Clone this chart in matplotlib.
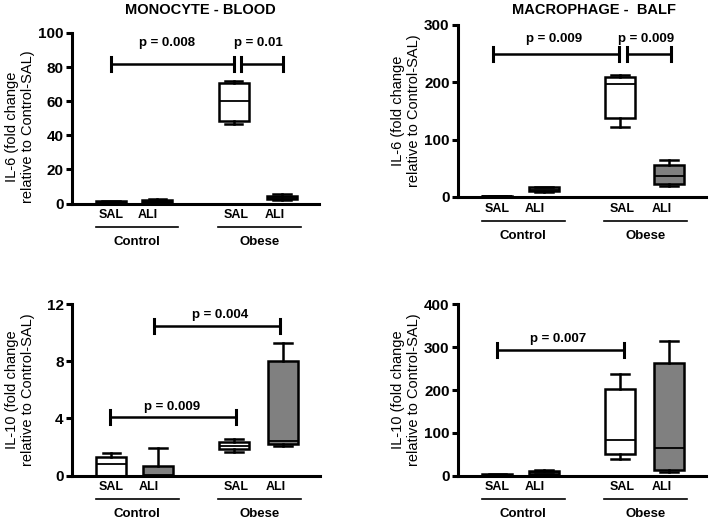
import matplotlib
matplotlib.use("Agg")
import matplotlib.pyplot as plt

# box stats per group: [whisker low, q1, median, q3, whisker high]
GROUPS = ["SAL", "ALI", "SAL", "ALI"]
POSITIONS = [1.0, 2.0, 3.65, 4.7]
LABEL_X = [1.0, 1.8, 3.7, 4.55]
FILLS = ["white", "#808080", "white", "#808080"]

MONO_IL6 = [[0.3, 0.5, 0.9, 1.3, 1.6], [0.8, 1.0, 1.6, 2.0, 2.4],
            [46.7, 48.4, 60.1, 70.5, 71.8], [2.0, 2.5, 3.5, 4.4, 5.4]]
MACRO_IL6 = [[0.5, 0.8, 1.0, 1.3, 1.6], [9.0, 10.0, 13.0, 17.0, 18.0],
             [121.5, 137.0, 196.5, 208.7, 212.8], [19.7, 22.0, 37.0, 55.8, 64.5]]
MONO_IL10 = [[0.0, 0.0, 0.8, 1.33, 1.61], [0.0, 0.0, 0.05, 0.68, 1.96],
             [1.63, 1.84, 2.1, 2.38, 2.56], [2.1, 2.19, 2.43, 8.02, 9.3]]
MACRO_IL10 = [[1.0, 1.5, 2.5, 3.5, 4.0], [3.0, 5.0, 8.0, 10.0, 13.0],
              [38.3, 50.0, 82.6, 201.6, 237.0], [8.7, 12.6, 64.0, 263.7, 314.0]]

# significance bars: (x start, x end, bar y, text x, text y, text)
MONO_IL6_SIG = [(1.0, 3.65, 82, 2.21, 94, "p = 0.008"), (3.8, 4.72, 82, 4.19, 94, "p = 0.01")]
MACRO_IL6_SIG = [(0.9, 3.63, 249, 2.22, 275, "p = 0.009"), (3.8, 4.75, 249, 4.2, 275, "p = 0.009")]
MONO_IL10_SIG = [(1.92, 4.63, 10.46, 3.34, 11.2, "p = 0.004"), (0.98, 3.68, 4.12, 2.3, 4.8, "p = 0.009")]
MACRO_IL10_SIG = [(1.0, 3.73, 293, 2.32, 319, "p = 0.007")]

plt.rcParams["font.family"] = ["Liberation Sans", "DejaVu Sans"]

W, H = 709, 528


def make_axes(fig, left, right, top, bottom):
    return fig.add_axes([left / W, 1 - bottom / H, (right - left) / W, (bottom - top) / H])


def panel(ax, stats, sigs, ymax, yticks, ylabel, label_y=0.5):
    bxp_stats = [dict(whislo=s[0], q1=s[1], med=s[2], q3=s[3], whishi=s[4]) for s in stats]
    bp = ax.bxp(bxp_stats, positions=POSITIONS, widths=0.65, capwidths=0.38,
                showfliers=False, patch_artist=True,
                boxprops=dict(linewidth=1.8, edgecolor="black"),
                whiskerprops=dict(linewidth=1.8),
                capprops=dict(linewidth=1.8),
                medianprops=dict(color="black", linewidth=1.3))
    for patch, c in zip(bp["boxes"], FILLS):
        patch.set_facecolor(c)

    ax.set_xlim(0.15, 5.5)
    ax.set_ylim(0, ymax)
    ax.set_yticks(yticks)
    ax.set_xticks([])
    for s in ["top", "right"]:
        ax.spines[s].set_visible(False)
    for s in ["left", "bottom"]:
        ax.spines[s].set_linewidth(2.2)
    ax.tick_params(axis="y", length=4, width=2.2, labelsize=11, pad=2)
    for t in ax.get_yticklabels():
        t.set_fontweight("bold")
    ax.set_ylabel(ylabel, fontsize=10.5, linespacing=1.15)
    ax.yaxis.set_label_coords(-0.15, label_y)

    tick = ymax * 0.04
    for x1, x2, y, tx, ty, txt in sigs:
        ax.plot([x1, x2], [y, y], color="black", lw=1.8, clip_on=False)
        ax.plot([x1, x1], [y - tick, y + tick], color="black", lw=2.2, clip_on=False)
        ax.plot([x2, x2], [y - tick, y + tick], color="black", lw=2.2, clip_on=False)
        ax.text(tx, ty, txt, ha="center", va="center", fontsize=9.5, fontweight="bold")

    tr = ax.get_xaxis_transform()
    for x, g in zip(LABEL_X, GROUPS):
        ax.text(x, -0.068, g, transform=tr, ha="center", va="center",
                fontsize=9, fontweight="bold")
    for (a, b), name in [((0.67, 2.45), "Control"), ((3.31, 5.1), "Obese")]:
        ax.plot([a, b], [-0.138, -0.138], transform=tr, color="black", lw=1.2, clip_on=False)
        ax.text((a + b) / 2, -0.225, name, transform=tr, ha="center", va="center",
                fontsize=9.5, fontweight="bold")


fig = plt.figure(figsize=(W / 100, H / 100), dpi=100)

ax1 = make_axes(fig, 72, 319, 33, 203.5)
panel(ax1, MONO_IL6, MONO_IL6_SIG, 100, [0, 20, 40, 60, 80, 100],
      "IL-6 (fold change\nrelative to Control-SAL)", label_y=0.45)
fig.text(200 / W, 1 - 10 / H, "MONOCYTE - BLOOD", ha="center", va="center",
         fontsize=10.5, fontweight="bold")

ax2 = make_axes(fig, 458, 706, 25, 197)
panel(ax2, MACRO_IL6, MACRO_IL6_SIG, 300, [0, 100, 200, 300],
      "IL-6 (fold change\nrelative to Control-SAL)")
fig.text(594 / W, 1 - 10 / H, "MACROPHAGE -  BALF", ha="center", va="center",
         fontsize=10.5, fontweight="bold")

ax3 = make_axes(fig, 72, 320, 304, 475.7)
panel(ax3, MONO_IL10, MONO_IL10_SIG, 12, [0, 4, 8, 12],
      "IL-10 (fold change\nrelative to Control-SAL)")

ax4 = make_axes(fig, 458, 706, 304.3, 475.7)
panel(ax4, MACRO_IL10, MACRO_IL10_SIG, 400, [0, 100, 200, 300, 400],
      "IL-10 (fold change\nrelative to Control-SAL)")

fig.savefig("out.png", dpi=100)
